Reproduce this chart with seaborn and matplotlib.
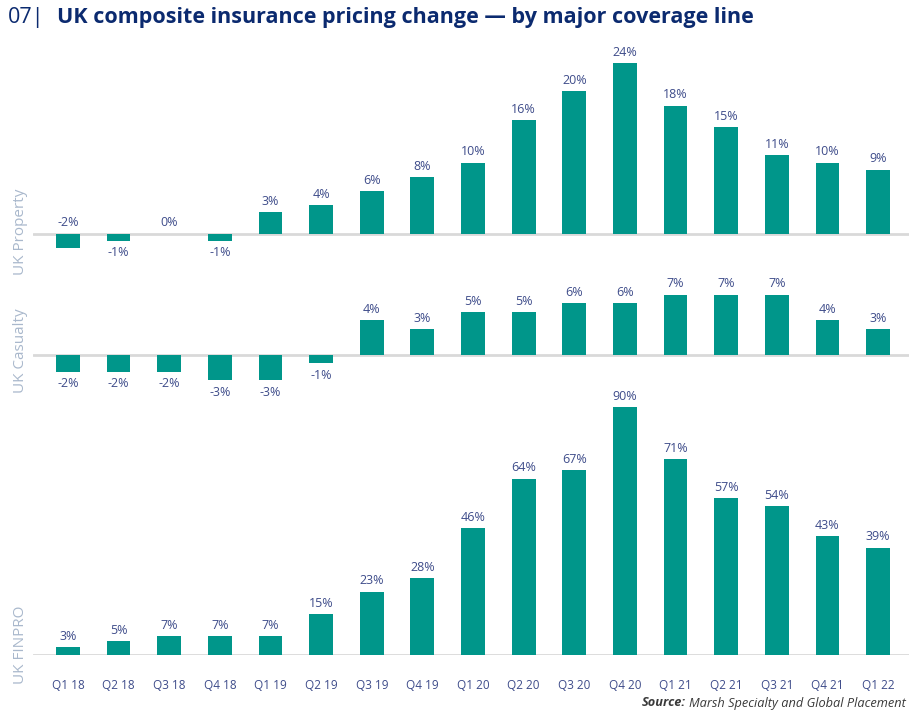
import matplotlib
matplotlib.use("Agg")
import matplotlib.pyplot as plt
import pandas as pd
import seaborn as sns

# Quarterly pricing change (%) by coverage line
quarters = ["Q1 18", "Q2 18", "Q3 18", "Q4 18", "Q1 19", "Q2 19", "Q3 19", "Q4 19",
            "Q1 20", "Q2 20", "Q3 20", "Q4 20", "Q1 21", "Q2 21", "Q3 21", "Q4 21", "Q1 22"]
property_change = [-2, -1, 0, -1, 3, 4, 6, 8, 10, 16, 20, 24, 18, 15, 11, 10, 9]
casualty_change = [-2, -2, -2, -3, -3, -1, 4, 3, 5, 5, 6, 6, 7, 7, 7, 4, 3]
finpro_change = [3, 5, 7, 7, 7, 15, 23, 28, 46, 64, 67, 90, 71, 57, 54, 43, 39]
panel_names = ["UK Property", "UK Casualty", "UK FINPRO"]

sns.set_theme(style="white")
plt.rcParams["font.family"] = ["Open Sans", "DejaVu Sans"]

TEAL = "#00968a"
NAVY = "#0b2a6f"
LABEL = "#3e4c8a"
AXIS_LABEL = "#a9b8cc"
BASE = "#d9d9d9"

W, H = 909, 713
fig = plt.figure(figsize=(W / 100, H / 100), dpi=100)


def add_panel(baseline_px, ppu, ymin, ymax):
    top_px = baseline_px - ymax * ppu
    bot_px = baseline_px - ymin * ppu
    left_px, right_px = 33, 909
    return fig.add_axes([left_px / W, 1 - bot_px / H,
                         (right_px - left_px) / W, (bot_px - top_px) / H])


ax_p = add_panel(230, 6.78, -4, 26)
ax_c = add_panel(351, 6.75, -5, 9)
ax_f = add_panel(651, 2.70, -1.5, 95)

panels = [
    (ax_p, property_change, {0}),
    (ax_c, casualty_change, set()),
    (ax_f, finpro_change, set()),
]

for ax, values, label_above in panels:
    df = pd.DataFrame({"quarter": quarters, "change": values})
    sns.barplot(data=df, x="quarter", y="change", ax=ax, color=TEAL,
                width=0.47, saturation=1, edgecolor="none")
    ax.set_xlim(-0.69, 16.61)
    ax.axhline(0, color=BASE, lw=2, zorder=0.5)
    for i, v in enumerate(values):
        if v >= 0 or i in label_above:
            y, off, va = max(v, 0), 3, "bottom"
        else:
            y, off, va = v, -4, "top"
        ax.annotate(f"{v}%", (i, y), xytext=(0, off), textcoords="offset points",
                    ha="center", va=va, fontsize=9, color=LABEL,
                    annotation_clip=False)
    ax.set_ylabel("")
    ax.set_xlabel("")
    ax.set_yticks([])
    for s in ax.spines.values():
        s.set_visible(False)
    ax.set_facecolor("none")

for ax in (ax_p, ax_c):
    ax.set_xticks([])
ax_f.tick_params(axis="x", length=0, labelsize=8.5, labelcolor=LABEL, pad=17)

# Rotated panel names on the left
for name, yc in zip(panel_names, [232, 351, 645]):
    fig.text(21 / W, 1 - yc / H, name, rotation=90, ha="center", va="center",
             fontsize=11, color=AXIS_LABEL)

# Title
fig.text(8 / W, 1 - 18 / H, "07|", fontsize=15.5, color=NAVY, va="center", ha="left")
fig.text(57 / W, 1 - 18 / H, "UK composite insurance pricing change — by major coverage line",
         fontsize=15.5, color=NAVY, fontweight="bold", va="center", ha="left")

# Source note, right-aligned to the figure edge
body = fig.text(906 / W, 1 - 703 / H, "Marsh Specialty and Global Placement",
                fontsize=9.2, color="#3a3a3a", fontstyle="italic", va="center", ha="right")
fig.canvas.draw()
bb = body.get_window_extent()
fig.text((bb.x0 - 3) / W, 1 - 703 / H, "Source:", fontsize=9.2, color="#3a3a3a",
         fontweight="bold", fontstyle="italic", va="center", ha="right")

fig.savefig("out.png", dpi=100)
